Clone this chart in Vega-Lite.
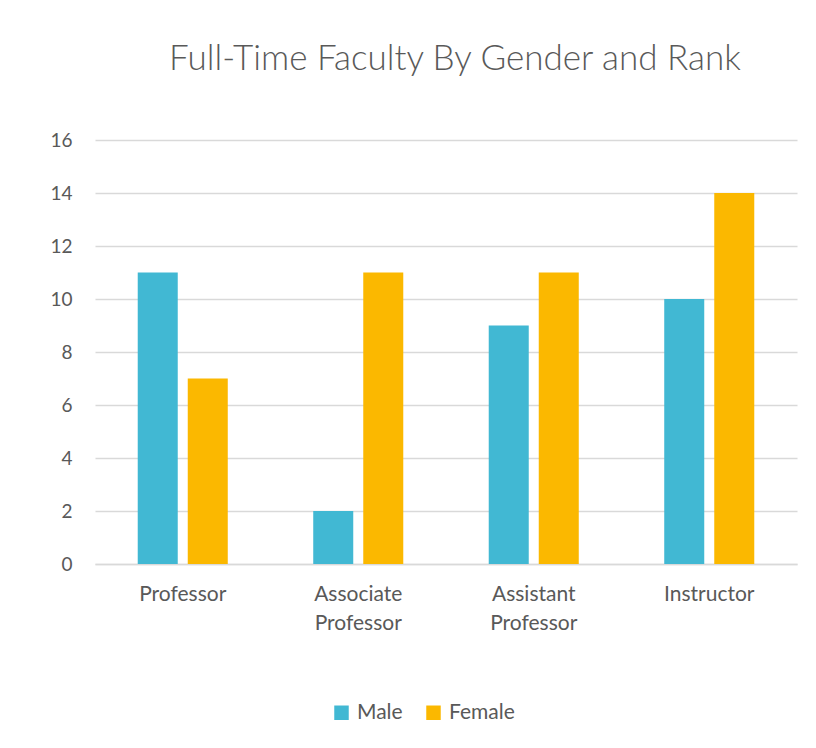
{
  "$schema": "https://vega.github.io/schema/vega-lite/v6.json",
  "autosize": {"type": "none"},
  "width": 702,
  "height": 424,
  "padding": {"left": 95, "top": 140, "right": 19, "bottom": 184},
  "background": "white",
  "title": {
    "text": "Full-Time Faculty By Gender and Rank",
    "font": "Lato",
    "fontSize": 35,
    "fontWeight": 300,
    "color": "#595959",
    "anchor": "middle",
    "offset": 54,
    "dx": 9
  },
  "data": {
    "values": [
      {"rank": "Professor", "gender": "Male", "count": 11},
      {"rank": "Professor", "gender": "Female", "count": 7},
      {"rank": "Associate Professor", "gender": "Male", "count": 2},
      {"rank": "Associate Professor", "gender": "Female", "count": 11},
      {"rank": "Assistant Professor", "gender": "Male", "count": 9},
      {"rank": "Assistant Professor", "gender": "Female", "count": 11},
      {"rank": "Instructor", "gender": "Male", "count": 10},
      {"rank": "Instructor", "gender": "Female", "count": 14}
    ]
  },
  "mark": {"type": "bar"},
  "encoding": {
    "x": {
      "field": "rank",
      "type": "nominal",
      "sort": ["Professor", "Associate Professor", "Assistant Professor", "Instructor"],
      "scale": {"paddingInner": 0.487, "paddingOuter": 0.2435},
      "axis": {
        "title": null,
        "labelAngle": 0,
        "labelExpr": "split(datum.label, ' ')",
        "labelFont": "Lato",
        "labelFontSize": 21,
        "labelColor": "#595959",
        "labelPadding": 19,
        "labelLineHeight": 29,
        "ticks": false,
        "domainColor": "#d9d9d9",
        "domainWidth": 1.5
      }
    },
    "xOffset": {
      "field": "gender",
      "type": "nominal",
      "sort": ["Male", "Female"],
      "scale": {"paddingInner": 0.2, "paddingOuter": 0}
    },
    "y": {
      "field": "count",
      "type": "quantitative",
      "scale": {"domain": [0, 16]},
      "axis": {
        "title": null,
        "values": [0, 2, 4, 6, 8, 10, 12, 14, 16],
        "labelFont": "Lato",
        "labelFontSize": 19,
        "labelColor": "#595959",
        "labelPadding": 23,
        "ticks": false,
        "domain": false,
        "gridColor": "#d9d9d9",
        "gridWidth": 1.5
      }
    },
    "color": {
      "field": "gender",
      "type": "nominal",
      "sort": ["Male", "Female"],
      "scale": {"domain": ["Male", "Female"], "range": ["#41B8D3", "#FBB800"]},
      "legend": {
        "title": null,
        "orient": "none",
        "direction": "horizontal",
        "legendX": 236,
        "legendY": 562,
        "symbolType": "square",
        "symbolSize": 210,
        "symbolStrokeWidth": 0,
        "labelFont": "Lato",
        "labelFontSize": 21,
        "labelColor": "#595959",
        "columnPadding": 20,
        "labelOffset": 5
      }
    }
  },
  "config": {"view": {"stroke": null}}
}
